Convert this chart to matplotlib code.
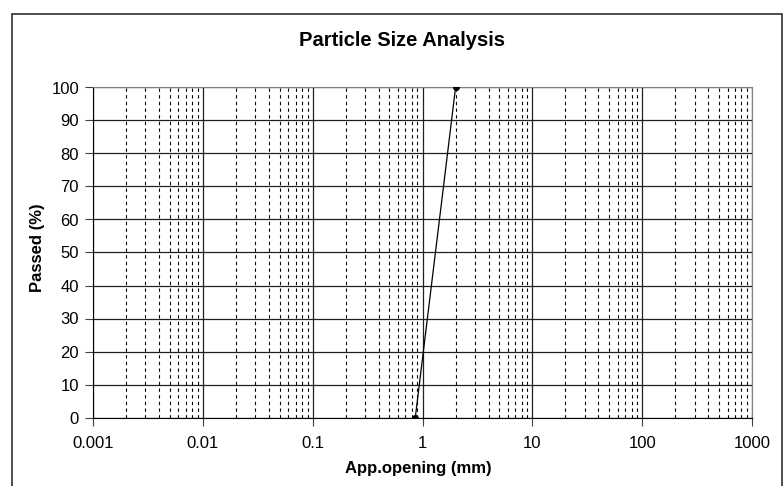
import matplotlib
matplotlib.use("Agg")
import matplotlib.pyplot as plt
from matplotlib.patches import Rectangle
from matplotlib.ticker import LogLocator, FixedLocator, NullFormatter

plt.rcParams['font.family'] = ['Liberation Sans', 'DejaVu Sans']

# data
opening_mm = [0.86, 2.0]
passed_pct = [0, 100]
x_ticks = [0.001, 0.01, 0.1, 1, 10, 100, 1000]
x_labels = ["0.001", "0.01", "0.1", "1", "10", "100", "1000"]
y_ticks = list(range(0, 101, 10))

fig = plt.figure(figsize=(7.83, 4.86), dpi=100)
W, H = 783, 486
ax = fig.add_axes([93 / W, 1 - 417.5 / H, (752 - 93) / W, (417.5 - 87.5) / H])

# outer chart border like an Excel chart area
fig.patches.append(Rectangle((12 / W, -0.05), (782 - 12) / W, 1.05 - 14 / H,
                             transform=fig.transFigure, fill=False,
                             edgecolor="#303030", linewidth=1.2))

ax.set_xscale("log")
ax.set_xlim(0.001, 1000)
ax.set_ylim(0, 100)

ax.xaxis.set_major_locator(FixedLocator(x_ticks))
ax.set_xticklabels(x_labels)
ax.xaxis.set_minor_locator(LogLocator(base=10, subs=range(2, 10), numticks=20))
ax.xaxis.set_minor_formatter(NullFormatter())
ax.set_yticks(y_ticks)

ax.grid(True, which="major", axis="both", color="#202020", linewidth=0.9)
ax.grid(True, which="minor", axis="x", color="black", linewidth=0.8,
        linestyle=(0, (3, 3)))
ax.set_axisbelow(True)

ax.plot(opening_mm, passed_pct, color="black", linewidth=0.9,
        marker="o", markersize=4, zorder=5)

for s in ["top", "right"]:
    ax.spines[s].set_color("#808080")
for s in ["left", "bottom"]:
    ax.spines[s].set_color("black")

ax.tick_params(axis="both", which="major", direction="out", length=6,
               width=0.8, labelsize=12, color="#404040", pad=4)
ax.tick_params(axis="x", which="minor", length=0)
ax.tick_params(axis="x", pad=7)

fig.text(402 / W, 1 - 40 / H, "Particle Size Analysis", fontsize=14.5,
         fontweight="bold", ha="center", va="center")
fig.text(418 / W, 1 - 468 / H, "App.opening (mm)", fontsize=12,
         fontweight="bold", ha="center", va="center")
fig.text(37.5 / W, 1 - 248 / H, "Passed (%)", fontsize=12,
         fontweight="bold", ha="center", va="center", rotation=90)

fig.savefig("out.png", dpi=100)
